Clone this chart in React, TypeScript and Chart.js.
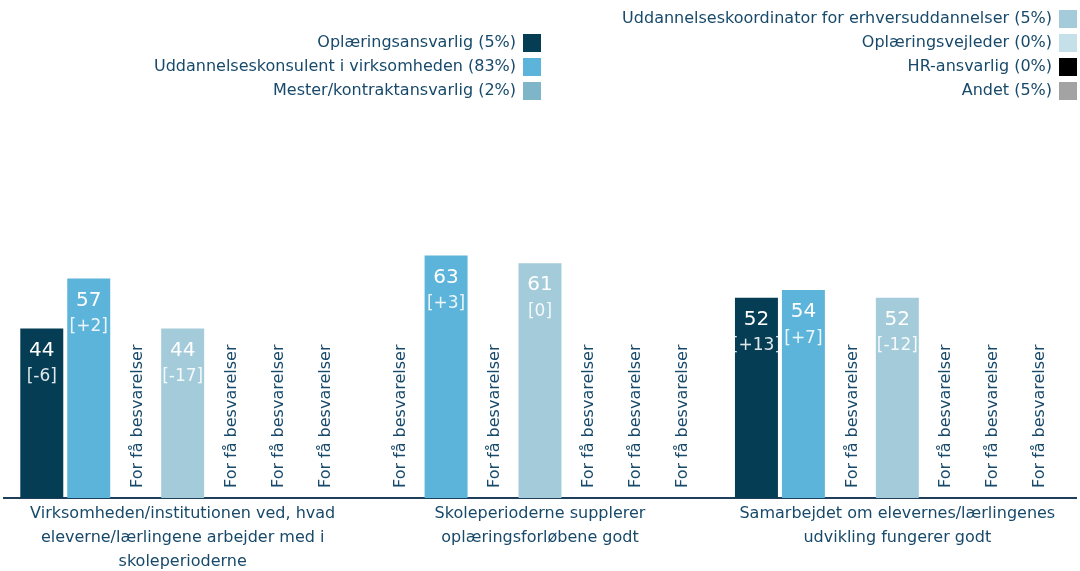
import React, { useEffect, useRef } from "react";
import { Chart, registerables } from "chart.js";
Chart.register(...registerables);

const categories: string[][] = [
  ["Virksomheden/institutionen ved, hvad", "eleverne/lærlingene arbejder med i", "skoleperioderne"],
  ["Skoleperioderne supplerer", "oplæringsforløbene godt"],
  ["Samarbejdet om elevernes/lærlingenes", "udvikling fungerer godt"],
];

const seriesLabels = [
  "Oplæringsansvarlig (5%)",
  "Uddannelseskonsulent i virksomheden (83%)",
  "Mester/kontraktansvarlig (2%)",
  "Uddannelseskoordinator for erhversuddannelser (5%)",
  "Oplæringsvejleder (0%)",
  "HR-ansvarlig (0%)",
  "Andet (5%)",
];

const seriesColors = ["#053d54", "#5db4da", "#7fb5c8", "#a3cbd9", "#c6e0e9", "#000000", "#a3a3a3"];

const oplaeringsansvarlig = [44, null, 52];
const uddannelseskonsulent = [57, 63, 54];
const mester = [null, null, null];
const uddannelseskoordinator = [44, 61, 52];
const oplaeringsvejleder = [null, null, null];
const hrAnsvarlig = [null, null, null];
const andet = [null, null, null];

const diffOplaeringsansvarlig = ["-6", null, "+13"];
const diffUddannelseskonsulent = ["+2", "+3", "+7"];
const diffMester = [null, null, null];
const diffUddannelseskoordinator = ["-17", "0", "-12"];
const diffEmpty = [null, null, null];

const values = [oplaeringsansvarlig, uddannelseskonsulent, mester, uddannelseskoordinator, oplaeringsvejleder, hrAnsvarlig, andet];
const diffs = [diffOplaeringsansvarlig, diffUddannelseskonsulent, diffMester, diffUddannelseskoordinator, diffEmpty, diffEmpty, diffEmpty];

const noDataText = "For få besvarelser";
const leftColumn = [0, 1, 2];
const rightColumn = [3, 4, 5, 6];

const FONT = "'DejaVu Sans', sans-serif";
const TEXT = "#17496a";

const barLabelPlugin = {
  id: "barLabels",
  afterDatasetsDraw(chart: any) {
    const ctx = chart.ctx;
    const base = chart.scales.y.getPixelForValue(0);
    chart.data.datasets.forEach((ds: any, di: number) => {
      const meta = chart.getDatasetMeta(di);
      meta.data.forEach((el: any, i: number) => {
        const v = ds.data[i];
        const x = el.x;
        ctx.save();
        if (v == null) {
          ctx.translate(x + 2, base - 10);
          ctx.rotate(-Math.PI / 2);
          ctx.fillStyle = TEXT;
          ctx.font = `16px ${FONT}`;
          ctx.textAlign = "left";
          ctx.textBaseline = "middle";
          ctx.fillText(noDataText, 0, 0);
        } else {
          const top = chart.scales.y.getPixelForValue(v);
          ctx.textAlign = "center";
          ctx.textBaseline = "middle";
          ctx.fillStyle = "#ffffff";
          ctx.font = `20px ${FONT}`;
          ctx.fillText(String(v), x, top + 22);
          const d = diffs[di][i];
          if (d != null) {
            ctx.fillStyle = "rgba(255,255,255,0.88)";
            ctx.font = `17px ${FONT}`;
            ctx.fillText(`[${d}]`, x, top + 48);
          }
        }
        ctx.restore();
      });
    });
  },
};

const legendPlugin = {
  id: "customLegend",
  afterDraw(chart: any) {
    const ctx = chart.ctx;
    ctx.save();
    ctx.font = `16px ${FONT}`;
    ctx.textAlign = "right";
    ctx.textBaseline = "middle";
    const drawCol = (items: number[], right: number, startY: number) => {
      items.forEach((si, k) => {
        const cy = startY + k * 24;
        ctx.fillStyle = seriesColors[si];
        ctx.fillRect(right - 18, cy - 9, 18, 18);
        ctx.fillStyle = TEXT;
        ctx.fillText(seriesLabels[si], right - 25, cy);
      });
    };
    drawCol(leftColumn, 541, 43);
    drawCol(rightColumn, 1077, 19);
    ctx.restore();
  },
};

export default function App() {
  const ref = useRef<HTMLCanvasElement>(null);
  useEffect(() => {
    const chart = new Chart(ref.current!, {
      type: "bar",
      data: {
        labels: categories,
        datasets: values.map((vals, i) => ({
          label: seriesLabels[i],
          data: vals,
          backgroundColor: seriesColors[i],
          categoryPercentage: 0.92,
          barPercentage: 0.915,
        })),
      },
      options: {
        responsive: false,
        animation: false,
        layout: { padding: { top: 113, left: 4, right: 4, bottom: -7 } },
        plugins: { legend: { display: false }, tooltip: { enabled: false } },
        scales: {
          x: {
            grid: { display: false, drawTicks: false },
            border: { display: true, color: "#1f3e5a", width: 2 },
            ticks: {
              color: TEXT,
              font: { family: FONT, size: 16, lineHeight: 1.5 },
              padding: 4,
              maxRotation: 0,
              autoSkip: false,
            },
          },
          y: { display: false, min: 0, max: 100 },
        },
      },
      plugins: [barLabelPlugin, legendPlugin],
    });
    return () => chart.destroy();
  }, []);
  return (
    <div style={{ position: "fixed", left: 0, top: 0, width: 1080, height: 571, background: "#fff" }}>
      <canvas ref={ref} width={1080} height={571} />
    </div>
  );
}
